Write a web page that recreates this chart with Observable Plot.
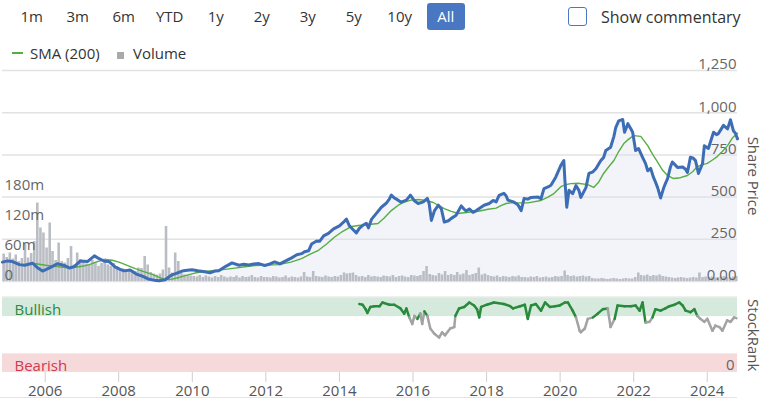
<!DOCTYPE html>
<html><head><meta charset="utf-8">
<script src="https://cdn.jsdelivr.net/npm/d3@7"></script>
<script src="https://cdn.jsdelivr.net/npm/@observablehq/plot@0.6"></script>
<style>
html,body{margin:0;padding:0;width:768px;height:399px;overflow:hidden;background:#fff;font-family:"Open Sans",sans-serif;}
#wrap{position:relative;width:768px;height:399px;}
.layer{position:absolute;left:0;top:0;pointer-events:none;}
.btn{position:absolute;top:3px;height:27px;width:38px;line-height:27px;text-align:center;font-size:15px;color:#333;border-radius:3px;white-space:nowrap;}
.btn.active{background:#4a77c1;color:#fff;}
.chk{position:absolute;left:568px;top:7px;width:17px;height:17px;border:1.5px solid #4a77c1;border-radius:3px;background:#fff;}
.chklbl{position:absolute;left:601px;top:5px;line-height:24px;font-size:16px;color:#333;white-space:nowrap;}
.leg{position:absolute;top:43px;line-height:20px;font-size:15px;color:#333;white-space:nowrap;}
.bottomline{position:absolute;left:0;top:397px;width:737px;height:1px;background:#e4e4e4;}
</style>
</head><body><div id="wrap"></div>
<script>
// ---------- data ----------
const rangeButtons = ["1m","3m","6m","YTD","1y","2y","3y","5y","10y","All"];
const activeButton = "All";
const commentaryLabel = "Show commentary";
const legendLabels = ["SMA (200)", "Volume"];

// share price [decimal year, price]
const pricePoints = [[2004.84,115],[2004.98,122],[2005.11,118],[2005.30,100],[2005.44,96],[2005.66,108],[2005.79,82],[2005.93,62],[2006.06,75],[2006.20,90],[2006.33,105],[2006.52,95],[2006.66,80],[2006.79,88],[2006.96,122],[2007.15,118],[2007.34,152],[2007.47,135],[2007.61,120],[2007.74,118],[2007.91,85],[2008.04,72],[2008.15,63],[2008.31,68],[2008.50,42],[2008.64,32],[2008.80,15],[2008.96,8],[2009.10,4],[2009.26,10],[2009.37,28],[2009.45,40],[2009.53,45],[2009.72,62],[2009.86,66],[2009.99,70],[2010.15,64],[2010.34,58],[2010.48,52],[2010.62,62],[2010.72,64],[2010.91,90],[2011.08,110],[2011.27,96],[2011.40,102],[2011.54,98],[2011.67,104],[2011.81,106],[2011.97,95],[2012.11,104],[2012.24,116],[2012.38,104],[2012.54,122],[2012.70,140],[2012.84,158],[2012.97,165],[2013.05,176],[2013.16,182],[2013.24,222],[2013.38,240],[2013.46,238],[2013.57,270],[2013.70,285],[2013.84,312],[2014.00,330],[2014.14,358],[2014.19,370],[2014.27,330],[2014.38,305],[2014.46,288],[2014.54,315],[2014.65,335],[2014.73,345],[2014.79,318],[2014.87,368],[2015.01,405],[2015.14,440],[2015.28,465],[2015.36,490],[2015.41,512],[2015.49,495],[2015.55,488],[2015.68,470],[2015.82,482],[2015.93,512],[2016.04,478],[2016.14,462],[2016.28,472],[2016.39,492],[2016.44,460],[2016.50,362],[2016.58,418],[2016.69,452],[2016.77,430],[2016.85,352],[2016.96,360],[2017.04,374],[2017.17,392],[2017.31,448],[2017.39,428],[2017.44,418],[2017.53,430],[2017.63,410],[2017.72,420],[2017.80,432],[2017.93,452],[2018.07,462],[2018.18,480],[2018.26,472],[2018.34,510],[2018.47,522],[2018.53,508],[2018.58,482],[2018.75,470],[2018.85,455],[2018.94,420],[2019.02,492],[2019.12,488],[2019.21,498],[2019.40,500],[2019.48,490],[2019.56,550],[2019.67,560],[2019.75,570],[2019.88,618],[2020.02,688],[2020.10,716],[2020.13,600],[2020.18,440],[2020.24,540],[2020.34,520],[2020.43,568],[2020.51,540],[2020.56,498],[2020.70,556],[2020.78,640],[2020.89,650],[2020.97,668],[2021.10,716],[2021.18,735],[2021.24,776],[2021.37,795],[2021.46,860],[2021.51,912],[2021.59,952],[2021.70,960],[2021.75,884],[2021.84,935],[2021.92,905],[2021.97,884],[2022.05,776],[2022.13,788],[2022.24,736],[2022.32,700],[2022.38,656],[2022.46,670],[2022.54,615],[2022.59,590],[2022.65,556],[2022.73,495],[2022.81,552],[2022.86,580],[2022.92,610],[2023.00,680],[2023.05,708],[2023.19,676],[2023.33,678],[2023.41,665],[2023.46,646],[2023.54,736],[2023.62,730],[2023.68,716],[2023.76,640],[2023.87,698],[2023.92,804],[2024.03,788],[2024.17,884],[2024.25,870],[2024.30,876],[2024.44,925],[2024.55,904],[2024.63,958],[2024.71,892],[2024.76,880],[2024.82,845]];

// 200-day simple moving average [decimal year, value]
const smaPoints = [[2005.66,108],[2006.01,96],[2006.33,88],[2006.66,80],[2007.01,90],[2007.20,100],[2007.42,118],[2007.63,130],[2007.82,126],[2008.01,115],[2008.23,96],[2008.45,76],[2008.66,60],[2008.91,42],[2009.10,24],[2009.26,12],[2009.45,14],[2009.64,24],[2009.86,38],[2010.07,50],[2010.34,60],[2010.62,66],[2010.89,72],[2011.16,79],[2011.43,87],[2011.70,95],[2012.02,98],[2012.35,100],[2012.68,115],[2012.97,136],[2013.19,160],[2013.43,185],[2013.65,222],[2013.86,262],[2014.08,296],[2014.33,326],[2014.52,332],[2014.73,336],[2015.05,344],[2015.21,375],[2015.41,420],[2015.60,452],[2015.76,470],[2015.95,482],[2016.14,486],[2016.36,480],[2016.55,468],[2016.85,432],[2017.04,415],[2017.23,403],[2017.50,410],[2017.77,416],[2018.04,428],[2018.26,435],[2018.39,450],[2018.53,462],[2018.66,466],[2018.88,466],[2019.12,466],[2019.48,480],[2019.67,500],[2019.83,521],[2020.02,562],[2020.15,574],[2020.29,580],[2020.48,582],[2020.75,574],[2020.91,557],[2021.05,590],[2021.18,640],[2021.32,680],[2021.46,717],[2021.59,770],[2021.73,817],[2021.87,845],[2022.00,864],[2022.19,860],[2022.38,805],[2022.51,755],[2022.65,707],[2022.78,660],[2022.92,628],[2023.08,610],[2023.27,615],[2023.46,628],[2023.60,650],[2023.73,681],[2023.87,692],[2024.00,700],[2024.14,720],[2024.27,740],[2024.41,770],[2024.55,805],[2024.68,850],[2024.82,878]];

// monthly volume (millions), per year
const vol2004 = [55,48]; // Nov-Dec
const vol2005 = [57,45,53,40,46,77,47,56,80,157,107,97];
const vol2006 = [67,117,60,42,77,40,37,46,70,33,57,44];
const vol2007 = [40,35,33,42,38,30,36,45,33,30,36,30];
const vol2008 = [22,25,24,21,22,20,27,26,50,33,18,15];
const vol2009 = [13,15,23,110,27,17,57,40,17,13,12,11];
const vol2010 = [10,9,12,8,11,9,7,10,8,12,9,7];
const vol2011 = [9,8,11,7,10,8,9,12,8,7,10,8];
const vol2012 = [8,7,10,9,7,8,11,7,9,8,7,9];
const vol2013 = [18,9,8,20,10,9,8,11,9,8,10,9];
const vol2014 = [12,17,15,16,17,12,9,10,8,12,9,10];
const vol2015 = [9,8,11,10,9,12,8,10,11,9,8,12];
const vol2016 = [11,10,12,20,30,14,12,11,16,13,20,12];
const vol2017 = [14,12,18,13,15,22,12,14,16,27,13,15];
const vol2018 = [12,10,9,11,8,10,9,8,10,9,11,8];
const vol2019 = [8,7,9,8,10,7,8,9,7,8,10,9];
const vol2020 = [10,21,12,10,11,9,10,11,9,10,6,5];
const vol2021 = [5,6,5,4,5,6,5,4,5,6,5,5];
const vol2022 = [8,17,12,11,13,10,12,11,13,10,9,8];
const vol2023 = [7,6,7,8,7,6,7,8,7,17,8,9];
const vol2024 = [8,9,7,8,9,10,8,7,9,10]; // Jan-Oct

// StockRank [decimal year, rank 0-100]
const rankPoints = [[2014.54,92],[2014.63,91],[2014.71,85],[2014.76,80],[2014.84,88],[2014.95,89],[2015.09,89],[2015.17,94],[2015.36,91],[2015.49,91],[2015.66,86],[2015.76,79],[2015.82,86],[2015.90,74],[2015.98,65],[2016.04,76],[2016.12,72],[2016.20,79],[2016.25,65],[2016.31,82],[2016.39,76],[2016.47,59],[2016.58,52],[2016.71,47],[2016.79,54],[2016.87,50],[2017.01,59],[2017.12,61],[2017.15,76],[2017.25,86],[2017.39,88],[2017.53,94],[2017.66,90],[2017.74,85],[2017.80,74],[2017.85,88],[2018.01,91],[2018.20,94],[2018.47,92],[2018.64,89],[2018.72,86],[2018.91,89],[2019.04,91],[2019.12,72],[2019.21,90],[2019.34,92],[2019.48,83],[2019.59,94],[2019.72,88],[2019.86,89],[2019.99,90],[2020.13,94],[2020.21,94],[2020.34,83],[2020.43,74],[2020.53,56],[2020.56,54],[2020.67,59],[2020.75,72],[2020.89,74],[2021.02,79],[2021.16,85],[2021.29,86],[2021.37,61],[2021.48,72],[2021.56,90],[2021.75,89],[2021.92,89],[2022.05,90],[2022.16,83],[2022.24,94],[2022.32,67],[2022.43,68],[2022.51,74],[2022.59,85],[2022.73,83],[2022.86,86],[2022.97,89],[2023.11,91],[2023.24,94],[2023.33,90],[2023.41,83],[2023.54,81],[2023.65,85],[2023.73,76],[2023.81,72],[2023.92,68],[2024.00,72],[2024.14,56],[2024.22,63],[2024.33,61],[2024.41,56],[2024.54,70],[2024.63,68],[2024.73,74],[2024.79,73]];

const priceTicks = [0,250,500,750,1000,1250];
const volumeTicks = [0,60,120,180];
const yearTicks = [2006,2008,2010,2012,2014,2016,2018,2020,2022,2024];
const rankBands = [{lo:75,hi:100,fill:"#d5e9dc",label:"Bullish",color:"#2c8a3f"},{lo:0,hi:25,fill:"#f5d9db",label:"Bearish",color:"#d0394e"}];
const rankBullishLevel = 75;
const domainYears = [2004.84, 2024.82];

// ---------- helpers ----------
function toDate(y){const yr=Math.floor(y);const a=Date.UTC(yr,0,1),b=Date.UTC(yr+1,0,1);return new Date(a+(y-yr)*(b-a));}
const priceData = pricePoints.map(([y,v])=>({date:toDate(y),value:v}));
const smaData = smaPoints.map(([y,v])=>({date:toDate(y),value:v}));
const volumeYears = [[2004,10,vol2004],[2005,0,vol2005],[2006,0,vol2006],[2007,0,vol2007],[2008,0,vol2008],[2009,0,vol2009],[2010,0,vol2010],[2011,0,vol2011],[2012,0,vol2012],[2013,0,vol2013],[2014,0,vol2014],[2015,0,vol2015],[2016,0,vol2016],[2017,0,vol2017],[2018,0,vol2018],[2019,0,vol2019],[2020,0,vol2020],[2021,0,vol2021],[2022,0,vol2022],[2023,0,vol2023],[2024,0,vol2024]];
const volumeData = volumeYears.flatMap(([yr,m0,arr])=>arr.map((v,i)=>({date:new Date(Date.UTC(yr,m0+i,15)),value:v})));
const rankData = rankPoints.map(([y,v])=>({date:toDate(y),value:v}));
const GREEN="#2a8a3c", GRAY="#a3a3a3";
const rankSegs = d3.pairs(rankData).map(([a,b])=>({x1:a.date,y1:a.value,x2:b.date,y2:b.value,c:((a.value+b.value)/2>=rankBullishLevel)?GREEN:GRAY}));
const xDomain = domainYears.map(toDate);

const W=768,H=399;
const baseStyle = {background:"transparent",fontFamily:"'Open Sans', sans-serif",fontSize:"15px",color:"#666",overflow:"visible"};
const mainMargins = {width:W,height:H,marginLeft:2,marginRight:31,marginTop:70,marginBottom:118};
const wrap = document.getElementById("wrap");
function add(el){el.classList.add("layer");wrap.appendChild(el);}

// layer 1: grid + area
add(Plot.plot({...mainMargins, style:baseStyle,
  x:{type:"utc",domain:xDomain,axis:null},
  y:{domain:[0,1250],axis:null},
  marks:[
    Plot.areaY(priceData,{x:"date",y:"value",fill:"#f2f4fa"}),
    Plot.gridY(priceTicks,{stroke:"#e2e2e2",strokeOpacity:1,strokeWidth:1.5})
  ]}));

// layer 2: volume
add(Plot.plot({...mainMargins, style:baseStyle,
  x:{type:"utc",domain:xDomain,axis:null},
  y:{domain:[0,422],axis:null},
  marks:[
    Plot.ruleX(volumeData,{x:"date",y:"value",stroke:"#babdc4",strokeWidth:2.6}),
    Plot.axisY(volumeTicks,{anchor:"left",label:null,tickSize:0,tickPadding:-2,textAnchor:"start",dy:-6,fill:"#666",tickFormat:d=>d===0?"0":d+"m"})
  ]}));

// layer 3: price lines + axis
add(Plot.plot({...mainMargins, style:baseStyle,
  x:{type:"utc",domain:xDomain,axis:null},
  y:{domain:[0,1250],axis:null},
  marks:[
    Plot.axisY(priceTicks,{anchor:"right",label:null,tickSize:0,tickPadding:-1,textAnchor:"end",dy:-6,fill:"#666",tickFormat:d=>d===0?"0.00":d3.format(",")(d)}),
    Plot.text(["Share Price"],{frameAnchor:"right",rotate:90,dx:15,textAnchor:"middle",fill:"#555",fontSize:15}),
    Plot.line(smaData,{x:"date",y:"value",stroke:"#55ae41",strokeWidth:1.4}),
    Plot.line(priceData,{x:"date",y:"value",stroke:"#3d6db5",strokeWidth:3,strokeLinejoin:"round"})
  ]}));

// layer 4: StockRank panel + x axis
add(Plot.plot({width:W,height:H,marginLeft:2,marginRight:31,marginTop:297.5,marginBottom:27,style:baseStyle,
  x:{type:"utc",domain:xDomain,axis:null},
  y:{domain:[0,100],axis:null},
  color:{type:"identity"},
  marks:[
    Plot.rect(rankBands,{y1:"lo",y2:"hi",fill:"fill"}),
    Plot.ruleY([100],{stroke:"#e0e0e0",dy:-1}),
    Plot.text(rankBands,{frameAnchor:"left",y:d=>(d.lo+d.hi)/2,text:"label",fill:"color",dx:12,dy:3,textAnchor:"start",fontSize:15}),
    Plot.axisY([0],{anchor:"right",label:null,tickSize:0,tickPadding:-3,textAnchor:"end",dy:-7,fill:"#666"}),
    Plot.text(["StockRank"],{frameAnchor:"right",rotate:90,dx:15,textAnchor:"middle",fill:"#555",fontSize:15}),
    Plot.link(rankSegs,{x1:"x1",y1:"y1",x2:"x2",y2:"y2",stroke:"c",strokeWidth:2.5,strokeLinecap:"round"}),
    Plot.axisX(yearTicks.map(y=>new Date(Date.UTC(y,0,1))),{anchor:"bottom",label:null,tickSize:10,tickPadding:3,stroke:"#cfcfcf",fill:"#555",tickFormat:d3.utcFormat("%Y")})
  ]}));

// HTML controls / legend
rangeButtons.forEach((b,i)=>{const d=document.createElement("div");d.className="btn"+(b===activeButton?" active":"");d.style.left=(12.7+46*i)+"px";d.textContent=b;wrap.appendChild(d);});
const chk=document.createElement("div");chk.className="chk";wrap.appendChild(chk);
const cl=document.createElement("div");cl.className="chklbl";cl.textContent=commentaryLabel;wrap.appendChild(cl);
const leg=document.createElement("div");leg.style.cssText="position:absolute;left:0;top:0;";
leg.innerHTML='<div style="position:absolute;left:12px;top:52px;width:11px;height:2px;background:#55ae41"></div>'+
  '<div class="leg" style="left:30px">'+legendLabels[0]+'</div>'+
  '<div style="position:absolute;left:117px;top:52px;width:7px;height:7px;background:#aaa"></div>'+
  '<div class="leg" style="left:133px">'+legendLabels[1]+'</div>';
wrap.appendChild(leg);
const bl=document.createElement("div");bl.className="bottomline";wrap.appendChild(bl);
</script>
</body></html>
